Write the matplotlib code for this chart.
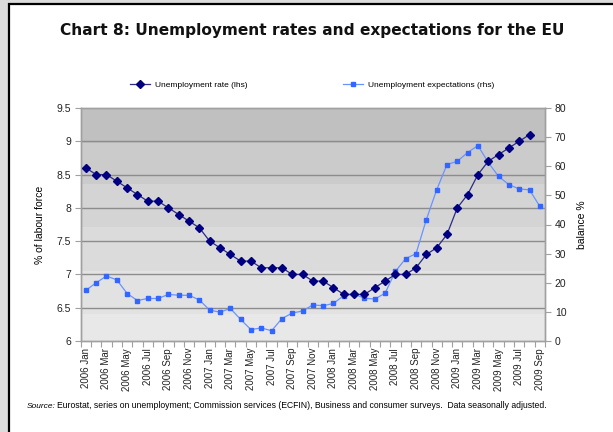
import matplotlib
matplotlib.use("Agg")
import matplotlib.pyplot as plt
from matplotlib.patches import Rectangle
from matplotlib.lines import Line2D
import numpy as np

# ---------------- data ----------------
years = ["2006", "2007", "2008", "2009"]
month_names = ["Jan", "Feb", "Mar", "Apr", "May", "Jun", "Jul", "Aug", "Sep", "Oct", "Nov", "Dec"]
categories = [f"{y} {m}" for y in years for m in month_names][:45]  # 2006 Jan .. 2009 Sep

unemployment_rate = [8.6, 8.5, 8.5, 8.4, 8.3, 8.2, 8.1, 8.1, 8.0, 7.9, 7.8, 7.7,
                     7.5, 7.4, 7.3, 7.2, 7.2, 7.1, 7.1, 7.1, 7.0, 7.0, 6.9, 6.9,
                     6.8, 6.7, 6.7, 6.7, 6.8, 6.9, 7.0, 7.0, 7.1, 7.3, 7.4, 7.6,
                     8.0, 8.2, 8.5, 8.7, 8.8, 8.9, 9.0, 9.1]

unemployment_expectations = [17.4, 20.0, 22.3, 21.0, 16.3, 13.9, 14.6, 14.6, 16.0, 15.7, 15.7, 14.1,
                             10.6, 9.9, 11.2, 7.4, 3.9, 4.5, 3.5, 7.7, 9.6, 10.3, 12.4, 12.1,
                             12.9, 15.6, 16.1, 14.7, 14.4, 16.4, 23.9, 28.3, 30.0, 41.7, 51.9, 60.6,
                             61.7, 64.7, 67.1, 61.3, 56.5, 53.7, 52.2, 51.9, 46.2]

left_ticks = [6, 6.5, 7, 7.5, 8, 8.5, 9, 9.5]
right_ticks = [0, 10, 20, 30, 40, 50, 60, 70, 80]

title = "Chart 8: Unemployment rates and expectations for the EU"
source_text = "Eurostat, series on unemployment; Commission services (ECFIN), Business and consumer surveys.  Data seasonally adjusted."

# ---------------- style ----------------
L0, L1 = 6, 9.5
R0, R1 = 0, 80
band_edges_left = [6.0, 6.40, 7.05, 7.71, 8.36, 8.97, 9.5]
band_colors = ["#e8e8e8", "#e2e2e2", "#dbdbdb", "#d4d4d4", "#cbcbcb", "#c0c0c0"]
grid_color = "#8c8c8c"
axis_color = "#a0a0a0"
ur_color = "#000080"
ur_line = "#2b2b85"
ex_color = "#3366ff"
ex_line = "#6a93ff"
FONT = "Liberation Sans"

def l2r(v):
    return (v - L0) / (L1 - L0) * (R1 - R0) + R0

W, H = 613, 432
fig = plt.figure(figsize=(W / 100, H / 100), dpi=100, facecolor="#dcdcdc")

# white panel with black border
panel = Rectangle((9 / W, -0.05), 1.1, 1 - 4 / H + 0.05, transform=fig.transFigure,
                  facecolor="white", edgecolor="black", linewidth=1.6, zorder=-10)
fig.patches.append(panel)

ax = fig.add_axes([80.7 / W, 1 - 341 / H, (545 - 80.7) / W, (341 - 108) / H])
ax2 = ax.twinx()

x = np.arange(len(categories))

# base axes: expectations (right scale); twin: unemployment (left scale)
ax.yaxis.tick_right()
ax.yaxis.set_label_position("right")
ax2.yaxis.tick_left()
ax2.yaxis.set_label_position("left")

ax.set_ylim(R0, R1)
ax2.set_ylim(L0, L1)
ax.set_xlim(-0.5, len(categories) - 0.5)

# background bands and gridlines on base axes
ax.patch.set_facecolor("white")
for i, c in enumerate(band_colors):
    ax.axhspan(l2r(band_edges_left[i]), l2r(band_edges_left[i + 1]), color=c, lw=0, zorder=0)
for v in left_ticks[1:-1]:
    ax.axhline(l2r(v), color=grid_color, lw=1.0, zorder=1)

ax.plot(x, unemployment_expectations, color=ex_line, lw=0.9, marker="s", markersize=2.6,
        markerfacecolor=ex_color, markeredgecolor=ex_color, zorder=3)
ax2.plot(x[:len(unemployment_rate)], unemployment_rate, color=ur_line, lw=0.9, marker="D",
         markersize=3.6, markerfacecolor=ur_color, markeredgecolor=ur_color, zorder=4)

# ticks
ax.set_yticks(right_ticks)
ax.set_yticklabels([str(t) for t in right_ticks], fontsize=7.5, family=FONT, color="#222222")
ax2.set_yticks(left_ticks)
ax2.set_yticklabels([f"{t:g}" for t in left_ticks], fontsize=7.5, family=FONT, color="#222222")
for a in (ax, ax2):
    a.tick_params(axis="y", length=4, width=0.8, color=axis_color, pad=3)
    for s in a.spines.values():
        s.set_color(axis_color)
        s.set_linewidth(1.0)

ax.set_xticks(x[::2])
ax.set_xticklabels(categories[::2], rotation=90, fontsize=7, family=FONT, color="#222222")
ax.set_xticks(np.arange(-0.5, len(categories), 1), minor=True)
ax.tick_params(axis="x", which="major", length=0, pad=5)
ax.tick_params(axis="x", which="minor", length=4, width=0.8, color=axis_color)

ax.set_ylabel("balance %", fontsize=7.5, family=FONT, labelpad=8)
ax2.set_ylabel("% of labour force", fontsize=7.5, family=FONT, labelpad=8)

# title
fig.text(312 / W, 1 - 30 / H, title, ha="center", va="center", fontsize=11.1,
         fontweight="bold", family="DejaVu Sans", color="#111111")

# legend
handles = [Line2D([], [], color=ur_line, lw=0.9, marker="D", markersize=3.6,
                  markerfacecolor=ur_color, markeredgecolor=ur_color),
           Line2D([], [], color=ex_line, lw=0.9, marker="s", markersize=2.6,
                  markerfacecolor=ex_color, markeredgecolor=ex_color)]
fig.legend(handles, ["Unemployment rate (lhs)", "Unemployment expectations (rhs)"],
           loc="center", bbox_to_anchor=(312 / W, 1 - 85 / H), ncol=2, frameon=False,
           prop={"family": FONT, "size": 6}, handlelength=2.4, handletextpad=0.6,
           columnspacing=11.5)

# source
fig.text(27 / W, 1 - 406 / H, "Source:", ha="left", va="center", fontsize=6,
         style="italic", family=FONT)
fig.text(57 / W, 1 - 406 / H, source_text, ha="left", va="center", fontsize=6.2, family=FONT)

fig.savefig("out.png", dpi=100, facecolor=fig.get_facecolor())
